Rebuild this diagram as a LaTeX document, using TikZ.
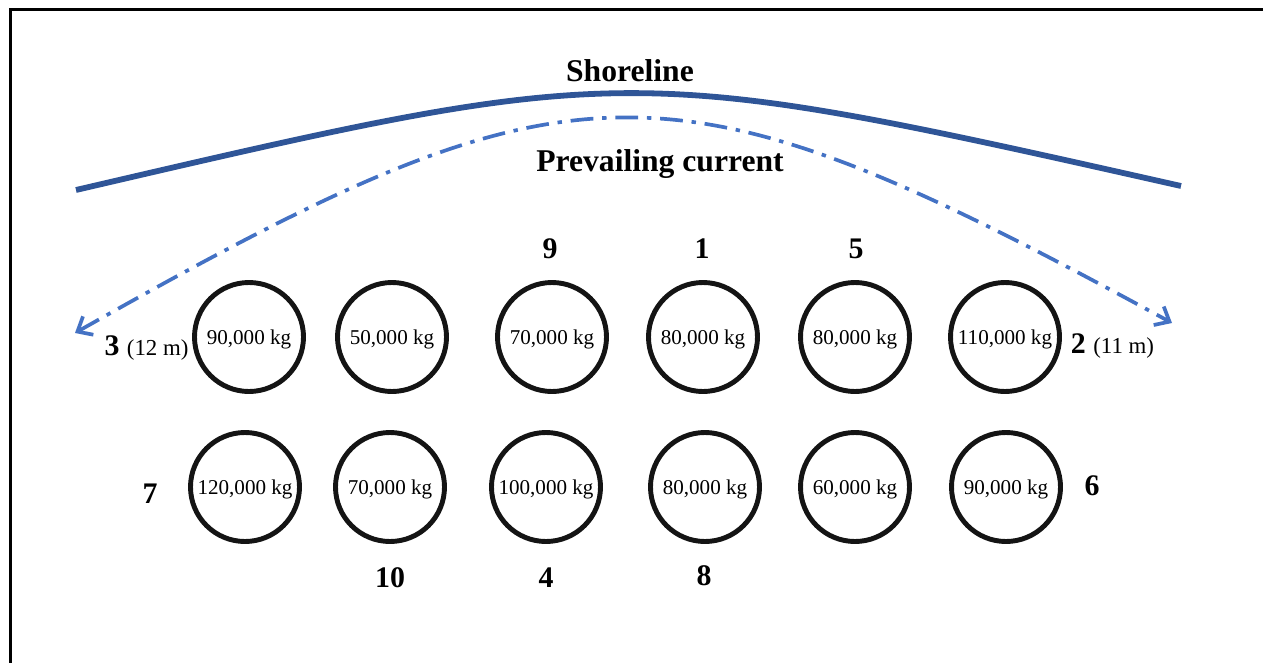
\documentclass[tikz,border=0pt]{standalone}
\usepackage{fontspec}
\setmainfont{Liberation Serif}
\usetikzlibrary{arrows.meta}
\definecolor{shoreblue}{HTML}{2F5597}
\definecolor{currentblue}{HTML}{4472C4}
\newcommand{\depthlab}[1]{{\fontsize{13}{15}\selectfont\mdseries #1}}
\begin{document}
\begin{tikzpicture}[
  pile/.style={circle,draw=black!92,line width=2.8pt,minimum size=2.18cm,inner sep=0pt,
  	text height=11pt,text depth=2.6pt,font=\fontsize{12}{14}\selectfont},
  nr/.style={anchor=base,font=\fontsize{17}{20}\selectfont\bfseries},
  title/.style={anchor=base,font=\fontsize{18}{21}\selectfont\bfseries}]
  \useasboundingbox (0,0) rectangle (25.26,13.24);
  %ramme (kun venstre og top ses)
  	\draw[line width=1.6pt] (0.21,-0.5) -- (0.21,13.05) -- (25.8,13.05);

  %kystlinje
  	\coordinate (shoreL) at (1.52,9.44);
  	\coordinate (shoreR) at (23.62,9.52);
  	\draw[shoreblue,line width=3.3pt] (shoreL) .. controls (12.56,12.01) .. (shoreR);
  	\node[title] (shore) at (12.6,11.6) {Shoreline};

  %strøm
  	\coordinate (curL) at (1.5,6.58);
  	\coordinate (curR) at (23.44,6.78);
  	\draw[currentblue,line width=2.1pt,dash pattern=on 13pt off 5pt on 2.5pt off 5pt,
  		{Straight Barb[length=7pt,width=12pt]}-{Straight Barb[length=7pt,width=12pt]}]
  		(curL) .. controls (11.58,12.28) and (13.34,12.28) .. (curR);
  	\node[title] (current) at (13.2,9.8) {Prevailing current};

  %række 1
  	\node[pile] (p3) at (4.98,6.5) {90,000 kg};
  	\node[pile] (pa) at (7.84,6.5) {50,000 kg};
  	\node[pile] (p9) at (11.04,6.5) {70,000 kg};
  	\node[pile] (p1) at (14.06,6.5) {80,000 kg};
  	\node[pile] (p5) at (17.1,6.5) {80,000 kg};
  	\node[pile] (p2) at (20.1,6.5) {110,000 kg};

  %række 2
  	\node[pile] (p7) at (4.9,3.5) {120,000 kg};
  	\node[pile] (p10) at (7.8,3.5) {70,000 kg};
  	\node[pile] (p4) at (10.92,3.5) {100,000 kg};
  	\node[pile] (p8) at (14.1,3.5) {80,000 kg};
  	\node[pile] (pb) at (17.1,3.5) {60,000 kg};
  	\node[pile] (p6) at (20.12,3.5) {90,000 kg};

  %numre
  	\node[nr] (n9) at (11.0,8.08) {9};
  	\node[nr] (n1) at (14.04,8.08) {1};
  	\node[nr] (n5) at (17.12,8.08) {5};
  	\node[nr] (n3) at (2.93,6.14) {3 \depthlab{(12 m)}};
  	\node[nr] (n2) at (22.25,6.18) {2 \depthlab{(11 m)}};
  	\node[nr] (n7) at (3.0,3.18) {7};
  	\node[nr] (n6) at (21.84,3.34) {6};
  	\node[nr] (n10) at (7.8,1.5) {10};
  	\node[nr] (n4) at (10.92,1.5) {4};
  	\node[nr] (n8) at (14.08,1.54) {8};
\end{tikzpicture}
\end{document}
